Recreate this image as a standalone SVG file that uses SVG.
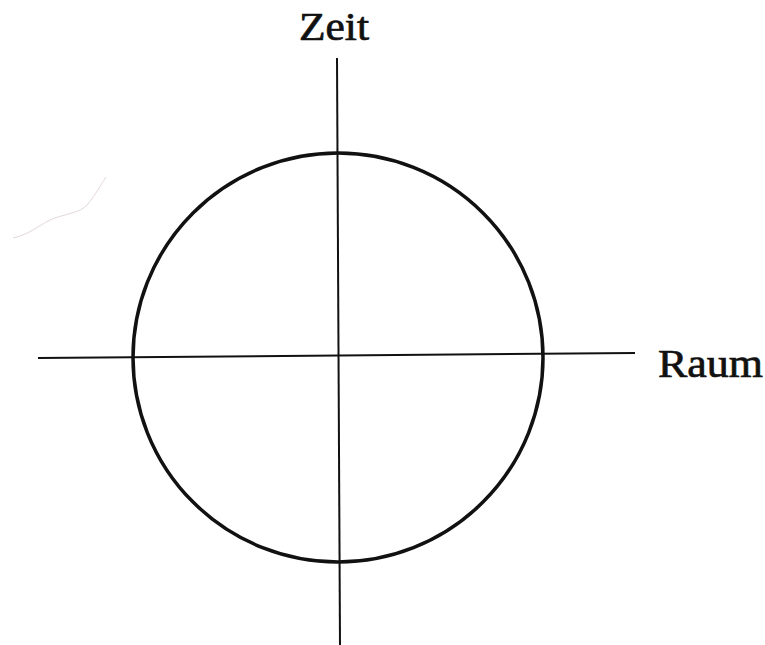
<svg xmlns="http://www.w3.org/2000/svg" width="765" height="645" viewBox="0 0 765 645">
<style>
.axis{stroke:#111;stroke-width:2;fill:none}
.circ{stroke:#111;stroke-width:3.5;fill:none}
.lbl{font-family:"Liberation Serif","DejaVu Serif",serif;font-size:39px;fill:#111;stroke:#111;stroke-width:0.7}
</style>
<rect width="765" height="645" fill="#fff"/>
<path d="M13,238 C30,234 38,226 50,220 C62,214 80,214 88,204 C96,194 100,186 106,177" stroke="#e4d6dc" stroke-width="1" fill="none"/>
<g id="connectors">
<line class="axis" x1="337" y1="58" x2="340" y2="645"/>
<line class="axis" x1="38" y1="358" x2="635" y2="353"/>
</g>
<g id="circle"><ellipse class="circ" cx="338" cy="357.5" rx="205" ry="204.5"/></g>
<g id="zeit"><text class="lbl" x="299" y="40" textLength="70" lengthAdjust="spacingAndGlyphs">Zeit</text></g>
<g id="raum"><text class="lbl" x="658" y="377" textLength="105" lengthAdjust="spacingAndGlyphs">Raum</text></g>
</svg>
